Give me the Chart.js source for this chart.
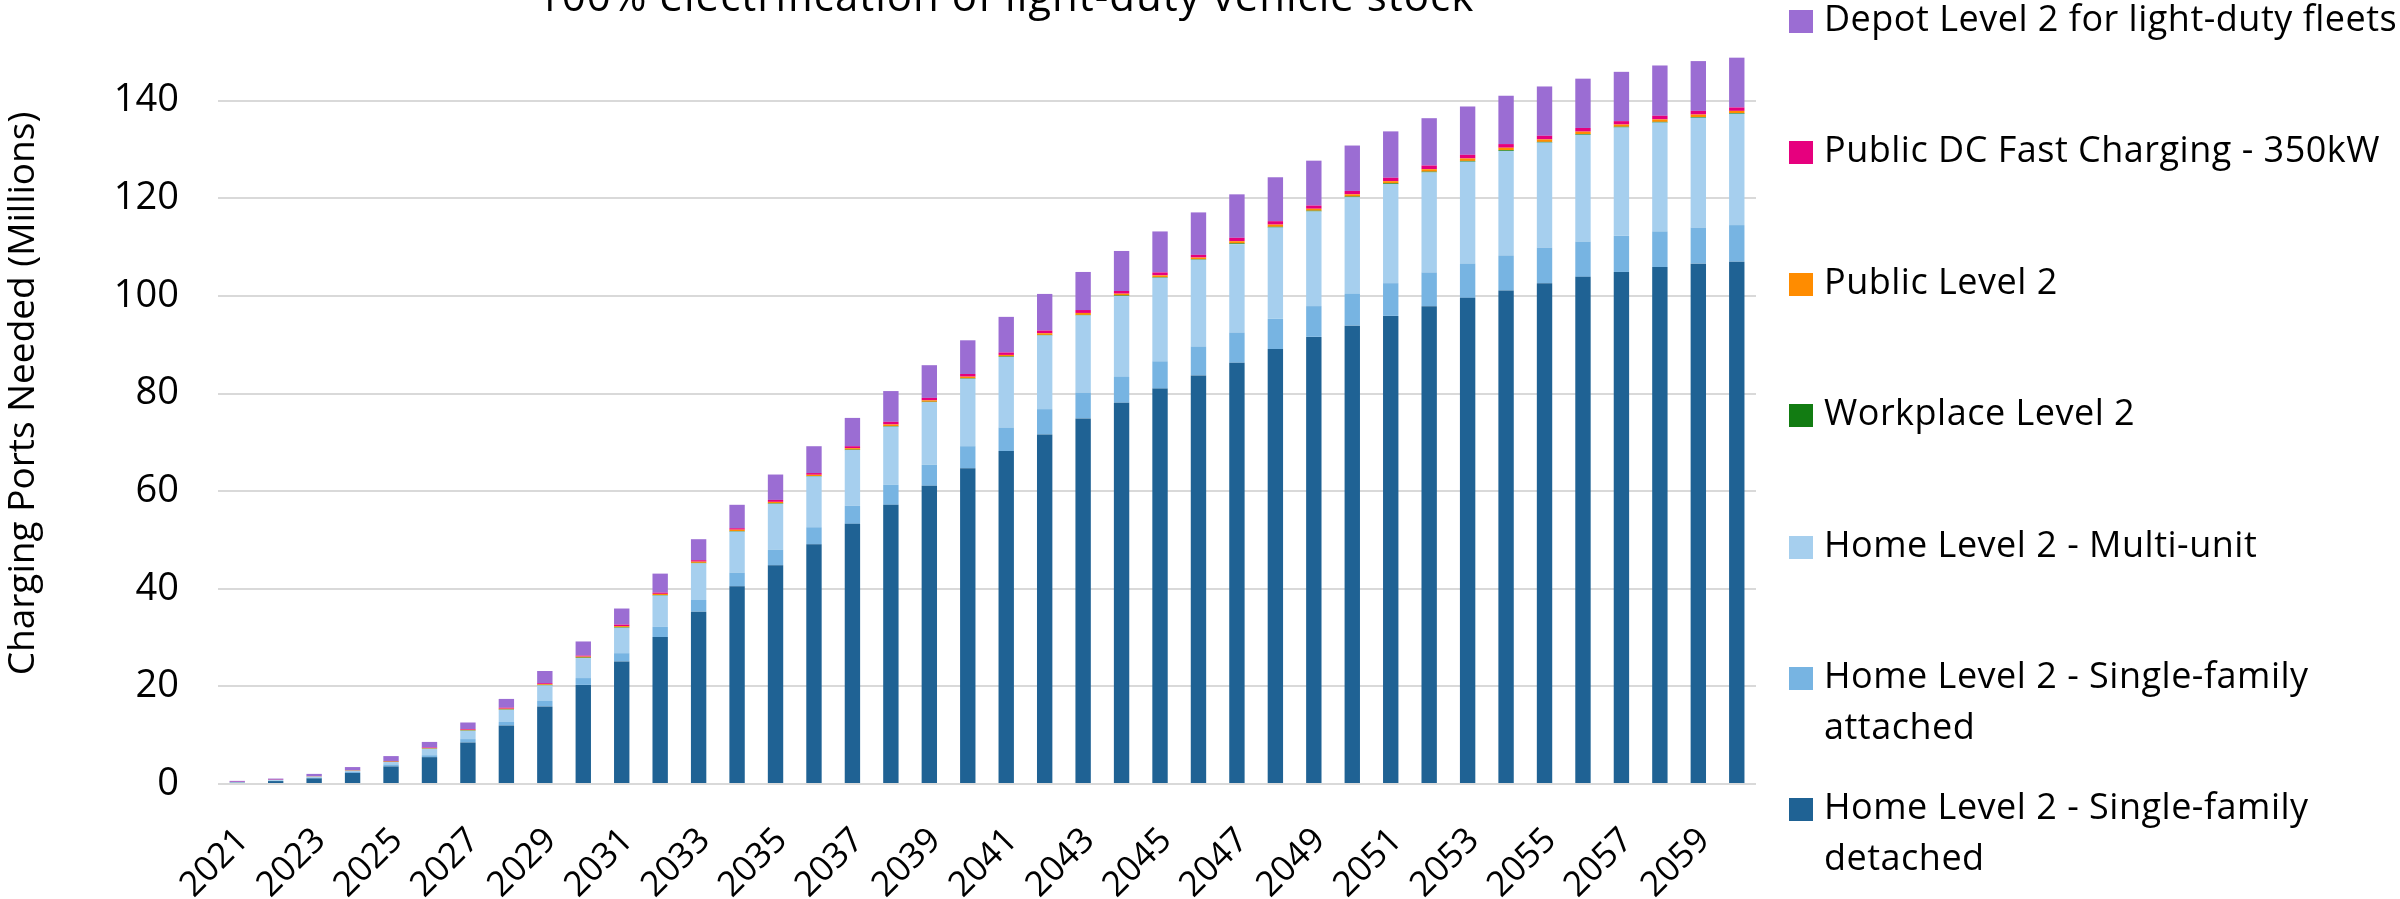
<!DOCTYPE html>
<html>
<head>
<meta charset="utf-8">
<title>Charging Ports Needed</title>
<script src="https://cdn.jsdelivr.net/npm/chart.js@4.4.1/dist/chart.umd.min.js"></script>
<style>
  body { margin: 0; background: #fff; }
  #wrap { position: relative; width: 2400px; height: 899px; overflow: hidden; font-family: "Open Sans", sans-serif; color: #000; }
  #titre { position: absolute; left: 0; width: 2011px; top: -30px; text-align: center; font-size: 42px; letter-spacing: 1px; line-height: 50px; white-space: nowrap; }
  #legende { position: absolute; left: 1789px; top: -8px; }
  .item { position: relative; height: 131.4px; }
  .carre { position: absolute; left: 0; top: 18px; width: 24px; height: 23px; }
  .texte { position: absolute; left: 35px; top: 0; width: 600px; font-size: 36px; letter-spacing: 0.5px; line-height: 51px; }
</style>
</head>
<body>
<div id="wrap">
  <canvas id="graphique" width="2400" height="899"></canvas>
  <div id="titre">100% electrification of light-duty vehicle stock</div>
  <div id="legende"></div>
</div>
<script>
// les données (millions de bornes)
var annees = ['2021','2022','2023','2024','2025','2026','2027','2028','2029','2030',
              '2031','2032','2033','2034','2035','2036','2037','2038','2039','2040',
              '2041','2042','2043','2044','2045','2046','2047','2048','2049','2050',
              '2051','2052','2053','2054','2055','2056','2057','2058','2059','2060'];

var detache = [0.25,0.6,1.16,2.26,3.6,5.5,8.5,12.0,15.9,20.3,
               25.1,30.1,35.3,40.5,44.8,49.1,53.3,57.2,61.1,64.7,
               68.2,71.6,74.9,78.1,81.0,83.7,86.3,89.1,91.6,93.9,
               95.9,97.9,99.6,101.1,102.6,103.9,104.9,105.9,106.6,107.0];

var attache = [0.03,0.05,0.15,0.2,0.4,0.4,0.7,0.7,1.1,1.4,
               1.7,2.1,2.4,2.8,3.2,3.5,3.7,4.1,4.3,4.5,
               4.8,5.2,5.3,5.3,5.6,5.9,6.2,6.2,6.3,6.5,
               6.7,6.9,7.0,7.2,7.3,7.2,7.4,7.3,7.4,7.5];

var collectif = [0.1,0.15,0.2,0.25,0.5,1.3,1.7,2.5,3.2,4.1,
                 5.2,6.4,7.5,8.4,9.4,10.4,11.4,11.9,12.8,13.8,
                 14.5,15.1,15.8,16.6,17.1,17.8,18.1,18.7,19.4,19.8,
                 20.3,20.5,20.9,21.4,21.5,21.9,22.2,22.3,22.5,22.8];

var travail = [0.01,0.01,0.02,0.03,0.04,0.05,0.07,0.08,0.1,0.1,
               0.1,0.1,0.1,0.1,0.1,0.1,0.1,0.1,0.1,0.1,
               0.1,0.1,0.1,0.1,0.1,0.1,0.15,0.15,0.15,0.15,
               0.15,0.15,0.15,0.15,0.15,0.15,0.15,0.15,0.15,0.15];

var publicN2 = [0.02,0.02,0.04,0.06,0.08,0.1,0.13,0.15,0.15,0.2,
                0.25,0.25,0.25,0.3,0.3,0.25,0.3,0.35,0.3,0.35,
                0.3,0.35,0.4,0.35,0.4,0.35,0.45,0.45,0.4,0.45,
                0.45,0.5,0.5,0.5,0.5,0.5,0.45,0.5,0.5,0.45];

var publicDC = [0.03,0.03,0.05,0.07,0.1,0.12,0.15,0.2,0.2,0.2,
                0.3,0.25,0.3,0.3,0.4,0.35,0.4,0.55,0.5,0.55,
                0.5,0.55,0.6,0.55,0.6,0.55,0.7,0.7,0.65,0.7,
                0.7,0.75,0.75,0.75,0.75,0.75,0.7,0.75,0.75,0.7];

var depot = [0.2,0.25,0.45,0.6,1.0,1.15,1.35,1.8,2.5,2.9,
             3.3,3.9,4.3,4.8,5.2,5.5,5.8,6.3,6.7,6.9,
             7.3,7.5,7.8,8.2,8.4,8.7,8.9,9.0,9.2,9.3,
             9.5,9.7,9.9,9.9,10.1,10.1,10.1,10.3,10.2,10.2];

var graduationsY = [0, 20, 40, 60, 80, 100, 120, 140];

// ordre d'empilement : du bas vers le haut
var series = [
  { nom: 'Home Level 2 - Single-family detached', valeurs: detache, couleur: '#1f6294' },
  { nom: 'Home Level 2 - Single-family attached', valeurs: attache, couleur: '#77b4e2' },
  { nom: 'Home Level 2 - Multi-unit', valeurs: collectif, couleur: '#a6cfee' },
  { nom: 'Workplace Level 2', valeurs: travail, couleur: '#127c12' },
  { nom: 'Public Level 2', valeurs: publicN2, couleur: '#ff8c00' },
  { nom: 'Public DC Fast Charging - 350kW', valeurs: publicDC, couleur: '#e6007e' },
  { nom: 'Depot Level 2 for light-duty fleets', valeurs: depot, couleur: '#9b6dd3' }
];

Chart.defaults.font.family = '"Open Sans", sans-serif';
Chart.defaults.color = '#000';

const monGraphique = new Chart(document.getElementById('graphique'), {
  type: 'bar',
  data: {
    labels: annees,
    datasets: series.map(function(s) {
      return {
        label: s.nom,
        data: s.valeurs,
        backgroundColor: s.couleur,
        borderWidth: 0,
        categoryPercentage: 1,
        barPercentage: 0.4
      };
    })
  },
  options: {
    responsive: false,
    animation: false,
    devicePixelRatio: 1,
    layout: { padding: { top: 3, right: 644, left: 0, bottom: 0 } },
    plugins: {
      legend: { display: false },
      title: { display: false },
      tooltip: { enabled: false }
    },
    scales: {
      x: {
        stacked: true,
        grid: { display: false },
        border: { display: false },
        ticks: {
          autoSkip: false,
          minRotation: 45,
          maxRotation: 45,
          padding: 28,
          labelOffset: 6,
          font: { size: 35 },
          // une année sur deux
          callback: function(v, i) { return i % 2 === 0 ? annees[i] : ''; }
        },
        afterFit: function(scale) {
          scale.height = 115;
          scale.paddingLeft = 0;
          scale.paddingRight = 0;
        }
      },
      y: {
        stacked: true,
        min: 0,
        max: 160,
        grid: { color: '#d9d9d9', lineWidth: 2, drawTicks: false },
        border: { display: false },
        ticks: { padding: 39, font: { size: 38 } },
        afterBuildTicks: function(scale) {
          scale.ticks = graduationsY.map(function(v) { return { value: v }; });
        },
        afterFit: function(scale) {
          scale.width = 218;
          scale.paddingTop = 0;
          scale.paddingBottom = 0;
        },
        title: {
          display: true,
          text: 'Charging Ports Needed (Millions)',
          font: { size: 37 },
          padding: { top: 1, bottom: 0 }
        }
      }
    }
  }
});

// légende à droite, dans l'ordre inverse de l'empilement
var legende = document.getElementById('legende');
series.slice().reverse().forEach(function(s) {
  var item = document.createElement('div');
  item.className = 'item';
  var carre = document.createElement('div');
  carre.className = 'carre';
  carre.style.background = s.couleur;
  var texte = document.createElement('div');
  texte.className = 'texte';
  texte.textContent = s.nom;
  item.appendChild(carre);
  item.appendChild(texte);
  legende.appendChild(item);
});
</script>
</body>
</html>
